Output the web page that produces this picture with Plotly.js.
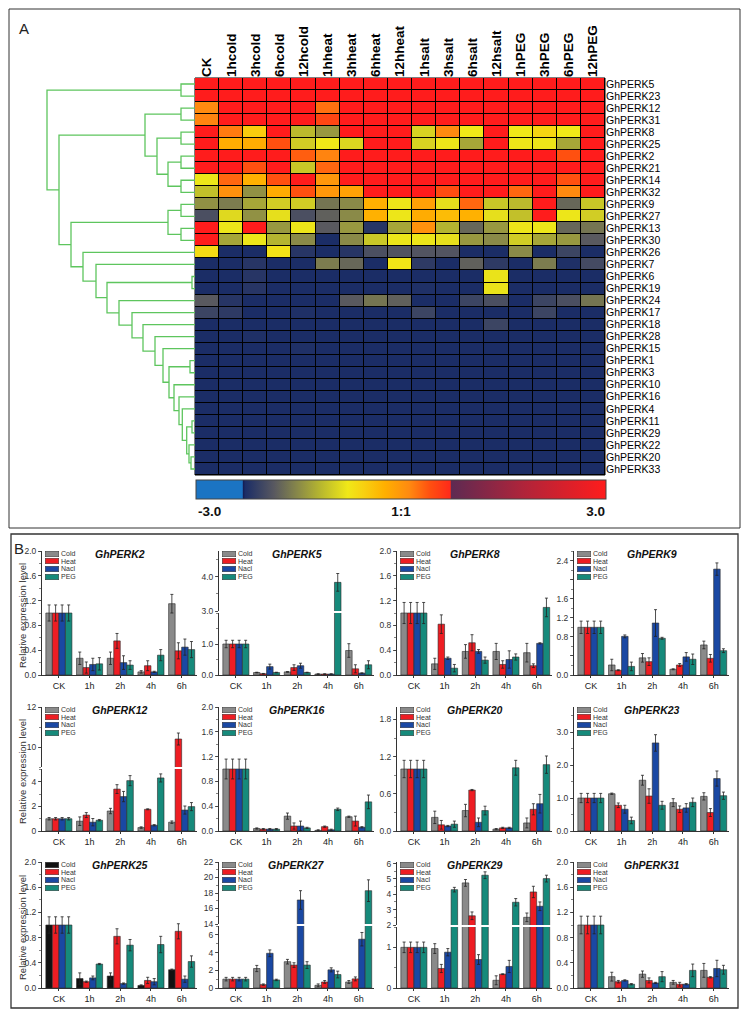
<!DOCTYPE html>
<html><head><meta charset="utf-8">
<script src="https://cdn.plot.ly/plotly-3.0.1.min.js"></script>
<style>html,body{margin:0;padding:0;background:#fff}#chart{width:748px;height:1019px}</style>
</head><body><div id="chart"></div>
<script>
const W = 748, H = 1019;
const FONT = 'Arial, "Liberation Sans", sans-serif';

// ---------------- Panel A : heatmap data ----------------
const heatCols = ['CK','1hcold','3hcold','6hcold','12hcold','1hheat','3hheat','6hheat','12hheat',
  '1hsalt','3hsalt','6hsalt','12hsalt','1hPEG','3hPEG','6hPEG','12hPEG'];
const heatRows = ['GhPERK5','GhPERK23','GhPERK12','GhPERK31','GhPERK8','GhPERK25','GhPERK2','GhPERK21',
  'GhPERK14','GhPERK32','GhPERK9','GhPERK27','GhPERK13','GhPERK30','GhPERK26','GhPERK7','GhPERK6',
  'GhPERK19','GhPERK24','GhPERK17','GhPERK18','GhPERK28','GhPERK15','GhPERK1','GhPERK3','GhPERK10',
  'GhPERK16','GhPERK4','GhPERK11','GhPERK29','GhPERK22','GhPERK20','GhPERK33'];
const heatZ = [
  [3,3,3,3,3,3,3,3,3,3,3,3,3,3,3,3,3],
  [3,3,3,3,3,3,3,3,3,3,3,3,3,3,3,3,3],
  [0.12,3,3,3,3,0.25,3,3,3,3,3,3,3,3,3,3,3],
  [0.15,3,3,3,3,0.5,3,3,3,3,3,3,3,3,3,3,3],
  [3,0.2,-0.5,3,-1.15,-1.4,3,3,3,-0.95,0.12,-0.78,3,-0.78,-0.6,-0.78,3],
  [3,-0.2,-0.2,0.42,-1.0,-0.78,-0.92,3,3,-0.95,-0.8,-1.3,3,-0.8,-0.8,-1.3,3],
  [3,3,3,3,0.35,0.15,3,3,3,3,3,3,3,3,3,0.42,3],
  [3,3,0.42,3,-1.05,0.3,3,3,3,3,3,3,3,3,3,3,3],
  [-0.8,0.3,-0.25,0.42,3,0.0,3,3,3,3,3,3,3,3,3,0.42,3],
  [-1.1,0.05,-1.45,-0.2,0.42,0.0,-0.1,3,3,3,0.45,3,3,0.3,3,0.12,3],
  [-1.45,-1.6,-1.3,-1.0,-1.0,-1.65,-1.5,-0.25,-0.8,-0.1,-0.85,0.3,-1.05,-1.15,3,-1.75,-1.05],
  [-1.95,-0.9,-1.45,-0.85,-1.95,-1.8,-1.5,-0.25,-0.8,-0.2,-0.35,-0.25,-0.85,-1.1,3,-0.8,-1.0],
  [3,-0.8,3,-1.4,-0.8,-1.85,-1.4,-2.2,-1.3,0.05,-1.2,-1.75,-1.4,-0.8,-0.8,-1.75,-1.65],
  [3,-1.3,-0.8,-1.2,-1.5,-2.28,-1.5,-1.05,-0.8,-0.8,-0.85,-1.4,-1.5,-1.0,-1.3,-1.4,-1.85],
  [-0.65,-2.28,-2.28,-0.72,-2.2,-2.28,-2.2,-1.95,-1.9,-1.9,-1.9,-2.28,-2.28,-1.5,-2.28,-2.05,-2.28],
  [-2.28,-2.28,-2.2,-2.28,-2.28,-1.6,-1.75,-2.28,-0.75,-2.15,-2.28,-1.8,-2.15,-2.28,-1.6,-2.25,-2.0],
  [-2.28,-2.28,-2.2,-2.28,-2.28,-2.28,-2.28,-2.28,-2.28,-2.28,-2.28,-2.28,-0.82,-2.28,-2.28,-2.28,-2.28],
  [-2.28,-2.28,-2.2,-2.28,-2.28,-2.28,-2.28,-2.28,-2.28,-2.25,-2.28,-2.28,-0.82,-2.28,-2.28,-2.28,-2.28],
  [-1.85,-2.2,-2.28,-2.28,-2.28,-2.28,-1.85,-1.65,-1.8,-2.28,-2.28,-2.05,-1.95,-2.28,-2.05,-1.95,-1.65],
  [-2.05,-2.15,-2.28,-2.28,-2.25,-2.28,-2.28,-2.28,-2.28,-2.05,-2.28,-2.28,-2.28,-2.28,-2.05,-2.28,-2.28],
  [-2.28,-2.28,-2.28,-2.28,-2.28,-2.28,-2.28,-2.28,-2.28,-2.28,-2.28,-2.28,-2.05,-2.28,-2.28,-2.28,-2.28],
  [-2.28,-2.28,-2.25,-2.28,-2.28,-2.28,-2.28,-2.28,-2.28,-2.28,-2.28,-2.28,-2.28,-2.28,-2.28,-2.28,-2.28],
  [-2.28,-2.28,-2.28,-2.28,-2.25,-2.28,-2.28,-2.28,-2.28,-2.28,-2.28,-2.28,-2.28,-2.28,-2.28,-2.28,-2.28],
  [-2.28,-2.28,-2.28,-2.28,-2.28,-2.28,-2.28,-2.28,-2.28,-2.28,-2.28,-2.28,-2.28,-2.28,-2.28,-2.28,-2.28],
  [-2.28,-2.28,-2.28,-2.28,-2.28,-2.28,-2.28,-2.28,-2.28,-2.28,-2.28,-2.28,-2.28,-2.28,-2.28,-2.28,-2.28],
  [-2.28,-2.28,-2.28,-2.28,-2.28,-2.28,-2.28,-2.28,-2.28,-2.28,-2.28,-2.28,-2.28,-2.28,-2.28,-2.28,-2.28],
  [-2.28,-2.28,-2.28,-2.28,-2.28,-2.28,-2.28,-2.28,-2.28,-2.28,-2.28,-2.28,-2.28,-2.28,-2.28,-2.28,-2.28],
  [-2.28,-2.28,-2.28,-2.28,-2.28,-2.28,-2.28,-2.28,-2.28,-2.28,-2.28,-2.28,-2.28,-2.28,-2.28,-2.28,-2.28],
  [-2.28,-2.28,-2.28,-2.28,-2.28,-2.28,-2.28,-2.28,-2.28,-2.28,-2.28,-2.28,-2.28,-2.28,-2.28,-2.28,-2.28],
  [-2.28,-2.28,-2.28,-2.28,-2.28,-2.28,-2.28,-2.28,-2.28,-2.28,-2.28,-2.28,-2.28,-2.28,-2.28,-2.28,-2.28],
  [-2.28,-2.28,-2.28,-2.28,-2.28,-2.28,-2.28,-2.28,-2.28,-2.28,-2.28,-2.28,-2.28,-2.28,-2.28,-2.28,-2.28],
  [-2.28,-2.28,-2.28,-2.28,-2.28,-2.28,-2.28,-2.28,-2.28,-2.28,-2.28,-2.28,-2.28,-2.28,-2.28,-2.28,-2.28],
  [-2.28,-2.28,-2.28,-2.28,-2.28,-2.28,-2.28,-2.28,-2.28,-2.28,-2.28,-2.28,-2.28,-2.28,-2.28,-2.28,-2.28]
];
// colour bar tick labels
const cbTickVals = [-2.8, 0, 2.85];
const cbTickText = ['-3.0', '1:1', '3.0'];

// dendrogram merges: [childA, childB, height]; leaves are row indices 0..32, merge k creates node 33+k
const dendroMerges = [
  [0,1,14],[2,3,14],[4,5,14],[6,7,14],[8,9,14],[36,37,27],[35,38,38],[34,39,50],
  [10,11,14],[12,13,14],[41,42,27],[31,32,4],[30,44,6],[28,29,3],[46,45,8.3],[27,47,12.7],
  [26,48,16],[25,49,21],[23,24,5],[51,50,26],[22,52,32],[21,53,40],[20,54,52],[19,55,63],
  [18,56,76],[16,17,3],[58,57,88],[15,59,99],[14,60,112],[43,61,124],[40,62,136],[33,63,148]
];

// ---------------- Panel B : qRT-PCR bar data ----------------
const timepoints = ['CK','1h','2h','4h','6h'];
const treatments = ['Cold','Heat','Nacl','PEG'];
// rows: Cold, Heat, Nacl, PEG ; columns: CK,1h,2h,4h,6h
const PERK2_mean = [[1,0.27,0.27,0.05,1.15],[1,0.12,0.55,0.15,0.39],[1,0.17,0.20,0.05,0.45],[1,0.18,0.16,0.32,0.41]];
const PERK2_err  = [[0.13,0.10,0.10,0.02,0.15],[0.13,0.09,0.12,0.08,0.13],[0.13,0.10,0.11,0.01,0.13],[0.13,0.10,0.07,0.09,0.13]];
const PERK5_mean = [[1,0.08,0.10,0.03,0.79],[1,0.04,0.24,0.03,0.20],[1,0.27,0.30,0.03,0.06],[1,0.08,0.08,3.84,0.33]];
const PERK5_err  = [[0.12,0.01,0.01,0.01,0.22],[0.12,0.01,0.09,0.01,0.13],[0.12,0.08,0.08,0.01,0.01],[0.12,0.01,0.01,0.26,0.13]];
const PERK8_mean = [[1,0.18,0.38,0.38,0.36],[1,0.82,0.52,0.17,0.15],[1,0.27,0.38,0.25,0.51],[1,0.11,0.24,0.29,1.09]];
const PERK8_err  = [[0.17,0.09,0.11,0.13,0.15],[0.17,0.15,0.13,0.06,0.03],[0.17,0.02,0.03,0.14,0.01],[0.17,0.06,0.05,0.05,0.15]];
const PERK9_mean = [[1,0.21,0.36,0.12,0.63],[1,0.10,0.28,0.21,0.35],[1,0.81,1.09,0.38,2.22],[1,0.18,0.77,0.33,0.51]];
const PERK9_err  = [[0.13,0.12,0.09,0.01,0.08],[0.13,0.01,0.08,0.03,0.08],[0.13,0.03,0.28,0.09,0.13],[0.13,0.09,0.02,0.11,0.04]];
const PERK12_mean = [[1,0.80,1.63,0.28,0.72],[1,1.30,3.42,1.77,10.4],[1,0.72,2.81,0.47,1.71],[1,0.88,4.11,4.33,1.99]];
const PERK12_err  = [[0.10,0.35,0.22,0.06,0.10],[0.10,0.20,0.36,0.04,0.30],[0.10,0.30,0.42,0.05,0.33],[0.10,0.06,0.41,0.33,0.33]];
const PERK16_mean = [[1,0.04,0.24,0.01,0.23],[1,0.03,0.08,0.07,0.16],[1,0.03,0.08,0.02,0.06],[1,0.03,0.05,0.35,0.47]];
const PERK16_err  = [[0.16,0.01,0.05,0.01,0.01],[0.16,0.01,0.05,0.01,0.08],[0.16,0.01,0.08,0.01,0.01],[0.16,0.01,0.01,0.02,0.11]];
const PERK20_mean = [[1,0.22,0.33,0.03,0.13],[1,0.10,0.66,0.05,0.35],[1,0.08,0.14,0.05,0.44],[1,0.11,0.33,1.02,1.07]];
const PERK20_err  = [[0.14,0.10,0.10,0.01,0.08],[0.14,0.07,0.01,0.01,0.09],[0.14,0.01,0.07,0.01,0.15],[0.14,0.05,0.07,0.12,0.14]];
const PERK23_mean = [[1,1.13,1.54,0.86,1.05],[1,0.78,1.06,0.66,0.56],[1,0.66,2.67,0.70,1.59],[1,0.32,0.78,0.87,1.07]];
const PERK23_err  = [[0.14,0.02,0.15,0.12,0.11],[0.14,0.07,0.22,0.10,0.12],[0.14,0.12,0.25,0.13,0.23],[0.14,0.10,0.12,0.13,0.11]];
const PERK25_mean = [[1,0.15,0.19,0.04,0.29],[1,0.10,0.82,0.12,0.90],[1,0.16,0.07,0.10,0.14],[1,0.38,0.68,0.69,0.42]];
const PERK25_err  = [[0.13,0.09,0.05,0.01,0.01],[0.13,0.01,0.12,0.05,0.12],[0.13,0.03,0.01,0.05,0.05],[0.13,0.01,0.09,0.13,0.09]];
const PERK27_mean = [[1,2.2,2.97,0.3,0.68],[1,0.38,2.59,0.68,1.03],[1,3.92,17.1,2.05,5.51],[1,0.91,2.59,1.52,18.3]];
const PERK27_err  = [[0.2,0.35,0.26,0.16,0.16],[0.2,0.08,0.26,0.16,0.22],[0.2,0.38,1.2,0.23,0.76],[0.2,0.08,0.38,0.38,1.4]];
const PERK29_mean = [[1,0.97,4.74,0.19,2.5],[1,0.48,2.6,0.34,4.15],[1,0.88,0.70,0.53,3.22],[1,4.3,5.24,3.48,5.02]];
const PERK29_err  = [[0.13,0.12,0.22,0.11,0.28],[0.13,0.10,0.25,0.01,0.37],[0.13,0.09,0.12,0.15,0.28],[0.13,0.15,0.22,0.24,0.22]];
const PERK31_mean = [[1,0.18,0.22,0.09,0.28],[1,0.10,0.12,0.06,0.17],[1,0.12,0.08,0.06,0.31],[1,0.06,0.18,0.28,0.29]];
const PERK31_err  = [[0.14,0.07,0.05,0.03,0.11],[0.14,0.02,0.04,0.03,0.01],[0.14,0.01,0.01,0.01,0.13],[0.14,0.01,0.08,0.10,0.07]];

// ---------------- styling / layout helpers ----------------
const treatColors = ['#8a8a8a','#ee1d23','#1a48a3','#168a7b'];
const px = v => v / W;
const py = v => 1 - v / H;

const colX = [42, 219, 397, 574];
const panelW = 155;
const rowTop = [551, 707, 862];
const rowBot = [675, 831, 988];

const fmt1 = a => a.map(v => v.toFixed(1));
const ax02 = {range:[0,2.0], tickvals:[0,0.4,0.8,1.2,1.6,2.0], ticktext:fmt1([0,0.4,0.8,1.2,1.6,2.0]), minor:0.2};
const panels = [
  {gene:'GhPERK2',  mean:PERK2_mean,  err:PERK2_err,  r:0, c:0, y:ax02},
  {gene:'GhPERK5',  mean:PERK5_mean,  err:PERK5_err,  r:0, c:1, broken:{
      lower:{px:[613,675], range:[0,2.0], tickvals:[0,1], ticktext:['0.0','1.0'], minor:0.5},
      upper:{px:[551,611], range:[3.0,4.76], tickvals:[3,4], ticktext:['3.0','4.0'], minor:0.5}}},
  {gene:'GhPERK8',  mean:PERK8_mean,  err:PERK8_err,  r:0, c:2, y:ax02},
  {gene:'GhPERK9',  mean:PERK9_mean,  err:PERK9_err,  r:0, c:3, y:{range:[0,2.6], tickvals:[0,0.4,0.8,1.2,1.6,2.0,2.4], ticktext:['0.0','','0.8','1.2','1.6','','2.4'], minor:0.2}},
  {gene:'GhPERK12', mean:PERK12_mean, err:PERK12_err, r:1, c:0, ylab:true, broken:{
      lower:{px:[769,831], range:[0,5.06], tickvals:[0,2,4], ticktext:['0','2','4'], minor:1},
      upper:{px:[707,767], range:[9,12], tickvals:[10,12], ticktext:['10','12'], minor:1}}},
  {gene:'GhPERK16', mean:PERK16_mean, err:PERK16_err, r:1, c:1, y:ax02},
  {gene:'GhPERK20', mean:PERK20_mean, err:PERK20_err, r:1, c:2, y:{range:[0,2.0], tickvals:[0,0.6,1.2,1.8], ticktext:fmt1([0,0.6,1.2,1.8]), minor:0.3}},
  {gene:'GhPERK23', mean:PERK23_mean, err:PERK23_err, r:1, c:3, y:{range:[0,3.76], tickvals:[0,1,2,3], ticktext:fmt1([0,1,2,3]), minor:0.5}},
  {gene:'GhPERK25', mean:PERK25_mean, err:PERK25_err, r:2, c:0, y:ax02, colors:['#111111','#ee1d23','#1a48a3','#168a7b']},
  {gene:'GhPERK27', mean:PERK27_mean, err:PERK27_err, r:2, c:1, broken:{
      lower:{px:[926,988], range:[0,7.0], tickvals:[0,2,4,6], ticktext:['0','2','4','6'], minor:1},
      upper:{px:[862,924], range:[14,22], tickvals:[14,16,18,20,22], ticktext:['14','16','18','20','22'], minor:1}}},
  {gene:'GhPERK29', mean:PERK29_mean, err:PERK29_err, r:2, c:2, broken:{
      lower:{px:[927,988], range:[0,1.5], tickvals:[0,1], ticktext:['0','1'], minor:0.5},
      upper:{px:[862,925], range:[2.0,6.1], tickvals:[2,3,4,5,6], ticktext:['2','3','4','5','6'], minor:0.5}}},
  {gene:'GhPERK31', mean:PERK31_mean, err:PERK31_err, r:2, c:3, y:ax02}
];

// colour scale (matches colour bar: blue | navy -> yellow -> red | purple -> red)
const colorscale = [
  [0,'#1b74c3'],[0.113,'#1b74c3'],[0.115,'#141c52'],[0.12,'#1b2d66'],[0.19,'#585860'],
  [0.25,'#8a8a48'],[0.30,'#b4b430'],[0.37,'#f0e818'],[0.41,'#f8d010'],[0.46,'#ffb000'],
  [0.52,'#ff8a10'],[0.57,'#ff5010'],[0.62,'#ff2a1a'],[0.623,'#5e2a52'],[0.8,'#b0243a'],[1,'#ff1c1c']
];

const traces = [];
const layout = {
  width: W, height: H, margin:{l:0,r:0,t:0,b:0},
  paper_bgcolor:'#ffffff', plot_bgcolor:'rgba(0,0,0,0)',
  font:{family:FONT, color:'#222'},
  showlegend:false, barmode:'group', bargap:0.15, bargroupgap:0,
  annotations:[], shapes:[]
};

// heatmap
traces.push({
  type:'heatmap', z:heatZ, x:heatCols, y:heatRows.map((_, i) => i),
  zmin:-3, zmax:3, colorscale:colorscale, xgap:1, ygap:1, hoverinfo:'skip',
  xaxis:'x', yaxis:'y',
  colorbar:{orientation:'h', x:px(401), xanchor:'center', y:py(480), yanchor:'top',
    len:410, lenmode:'pixels', thickness:19, thicknessmode:'pixels', xpad:0, ypad:0,
    outlinewidth:1, outlinecolor:'#444', ticks:'', tickvals:cbTickVals, ticktext:cbTickText,
    tickfont:{size:13.5, family:FONT, color:'#111', weight:'bold'}}
});
layout.xaxis = {domain:[px(195), px(605)], anchor:'y', side:'top', type:'category', tickangle:-90,
  ticks:'', showgrid:false, zeroline:false, showline:false,
  tickfont:{size:13.5, family:FONT, color:'#000', weight:'bold'}};
layout.yaxis = {domain:[py(475), py(78)], anchor:'x', side:'right', range:[heatRows.length-0.5, -0.5],
  tickvals:heatRows.map((_, i) => i), ticktext:heatRows, ticks:'', showgrid:false, zeroline:false,
  tickfont:{size:10.5, family:FONT, color:'#000'}};
layout.shapes.push({type:'rect', xref:'x domain', yref:'y domain', x0:0, x1:1, y0:0, y1:1,
  fillcolor:'#000', line:{color:'#000', width:1}, layer:'below'});

// dendrogram built from merges
const nodeY = heatRows.map((_, i) => i), nodeH = heatRows.map(() => 0);
const dx = [], dy = [];
dendroMerges.forEach(m => {
  const [a, b, h] = m;
  dx.push(nodeH[a], h, h, nodeH[b], null);
  dy.push(nodeY[a], nodeY[a], nodeY[b], nodeY[b], null);
  nodeY.push((nodeY[a] + nodeY[b]) / 2);
  nodeH.push(h);
});
traces.push({type:'scatter', mode:'lines', x:dx, y:dy, xaxis:'x2', yaxis:'y',
  line:{color:'#5ec55e', width:1.3}, hoverinfo:'skip', connectgaps:false});
layout.xaxis2 = {domain:[px(45), px(195)], range:[150, 0], anchor:'y', visible:false};

// bar panels
let axN = 3;
function yAxisSpec(spec, pxRange, anchorX) {
  return {domain:[py(pxRange[1]), py(pxRange[0])], anchor:anchorX, range:spec.range,
    tickvals:spec.tickvals, ticktext:spec.ticktext, ticks:'outside', ticklen:3, tickwidth:0.8,
    tickcolor:'#333', showline:true, linecolor:'#333', linewidth:1, showgrid:false, zeroline:false,
    tickfont:{size:8.5, family:FONT, color:'#333'},
    minor:{ticks:'outside', ticklen:1.6, tickwidth:0.6, tickcolor:'#333', dtick:spec.minor, tick0:0}};
}
function addBars(p, xa, ya, cols) {
  for (let i = 0; i < treatments.length; i++) {
    traces.push({type:'bar', x:timepoints, y:p.mean[i], name:treatments[i], xaxis:xa, yaxis:ya,
      marker:{color:cols[i], line:{color:'#2a2a2a', width:0.6}},
      error_y:{type:'data', array:p.err[i], visible:true, color:'#222', thickness:0.8, width:1.5},
      hoverinfo:'skip', showlegend:false});
  }
}
panels.forEach(p => {
  const x0 = colX[p.c], x1 = x0 + panelW;
  const top = rowTop[p.r], bot = rowBot[p.r];
  const cols = p.colors || treatColors;
  const xBase = {domain:[px(x0), px(x1)], type:'category', range:[-0.55, 4.5], showline:true,
    linecolor:'#333', linewidth:1, ticks:'outside', ticklen:2, tickcolor:'#333', showgrid:false,
    zeroline:false, tickfont:{size:9, family:FONT, color:'#222'}};
  if (!p.broken) {
    const n = axN++;
    layout['xaxis' + n] = Object.assign({}, xBase, {anchor:'y' + n});
    layout['yaxis' + n] = yAxisSpec(p.y, [top, bot], 'x' + n);
    addBars(p, 'x' + n, 'y' + n, cols);
  } else {
    const nl = axN++, nu = axN++;
    layout['xaxis' + nl] = Object.assign({}, xBase, {anchor:'y' + nl});
    layout['yaxis' + nl] = yAxisSpec(p.broken.lower, p.broken.lower.px, 'x' + nl);
    layout['xaxis' + nu] = Object.assign({}, xBase, {anchor:'y' + nu, visible:false});
    layout['yaxis' + nu] = yAxisSpec(p.broken.upper, p.broken.upper.px, 'x' + nu);
    addBars(p, 'x' + nl, 'y' + nl, cols);
    addBars(p, 'x' + nu, 'y' + nu, cols);
  }
  // title
  layout.annotations.push({xref:'paper', yref:'paper', x:px((x0 + x1) / 2), y:py(top + 2.5),
    xanchor:'center', yanchor:'middle', showarrow:false, text:'<b><i>' + p.gene + '</i></b>',
    font:{size:10.5, family:FONT, color:'#111'}});
  // legend
  treatments.forEach((t, i) => {
    const yy = py(top + 2.5 + 7.7 * i);
    layout.annotations.push({xref:'paper', yref:'paper', x:px(x0 + 3), y:yy, xanchor:'left',
      yanchor:'middle', showarrow:false, text:' ', width:13, height:4.5, bgcolor:cols[i],
      bordercolor:'#333', borderwidth:0.5, borderpad:0, font:{size:4}});
    layout.annotations.push({xref:'paper', yref:'paper', x:px(x0 + 17), y:yy, xanchor:'left',
      yanchor:'middle', showarrow:false, text:t, font:{size:7, family:FONT, color:'#333'}});
  });
  if (p.c === 0) {
    layout.annotations.push({xref:'paper', yref:'paper', x:px(22), y:py((top + bot) / 2 + 3),
      xanchor:'center', yanchor:'middle', showarrow:false, textangle:-90,
      text:'Relative expression level', font:{size:9.5, family:FONT, color:'#333'}});
  }
});

// panel frames and labels
layout.shapes.push({type:'rect', xref:'paper', yref:'paper', x0:px(9), x1:px(740), y0:py(528), y1:py(9),
  line:{color:'#333', width:1}});
layout.shapes.push({type:'rect', xref:'paper', yref:'paper', x0:px(11), x1:px(738), y0:py(1008), y1:py(534),
  line:{color:'#333', width:1.3}});
layout.annotations.push({xref:'paper', yref:'paper', x:px(24), y:py(28), xanchor:'center', yanchor:'middle',
  showarrow:false, text:'A', font:{size:15, family:FONT, color:'#222'}});
layout.annotations.push({xref:'paper', yref:'paper', x:px(19), y:py(548), xanchor:'center', yanchor:'middle',
  showarrow:false, text:'B', font:{size:15, family:FONT, color:'#222'}});

Plotly.newPlot('chart', traces, layout, {staticPlot:true, displayModeBar:false});
</script>
</body></html>
